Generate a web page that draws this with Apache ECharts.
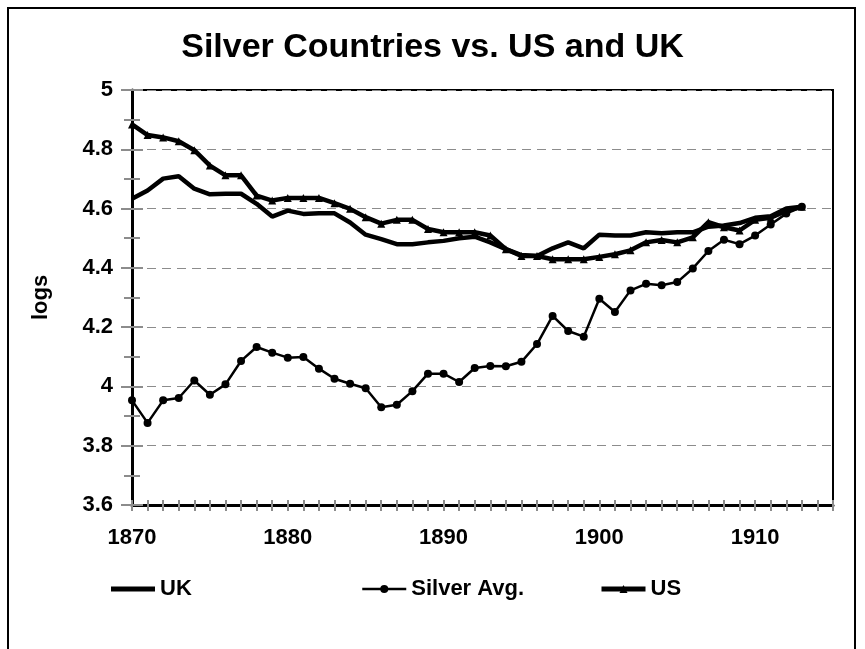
<!DOCTYPE html>
<html>
<head>
<meta charset="utf-8">
<script src="https://cdn.jsdelivr.net/npm/echarts@6/dist/echarts.min.js"></script>
<style>
html,body{margin:0;padding:0;background:#fff;}
#chart{width:865px;height:649px;}
</style>
</head>
<body>
<div id="chart"></div>
<script>
const years = ['1870','1871','1872','1873','1874','1875','1876','1877','1878','1879',
  '1880','1881','1882','1883','1884','1885','1886','1887','1888','1889',
  '1890','1891','1892','1893','1894','1895','1896','1897','1898','1899',
  '1900','1901','1902','1903','1904','1905','1906','1907','1908','1909',
  '1910','1911','1912','1913','1914','1915'];
const ukValues = [4.633,4.661,4.701,4.709,4.667,4.648,4.650,4.650,4.616,4.573,4.593,4.582,4.584,4.584,4.553,
  4.512,4.497,4.480,4.480,4.486,4.491,4.500,4.505,4.486,4.463,4.443,4.440,4.466,4.486,4.466,
  4.512,4.509,4.509,4.520,4.517,4.520,4.520,4.539,4.543,4.551,4.569,4.574,4.600,4.606];
const silverValues = [3.953,3.877,3.953,3.961,4.020,3.972,4.007,4.086,4.133,4.114,4.097,4.099,4.060,4.026,4.009,
  3.994,3.930,3.938,3.984,4.043,4.043,4.015,4.062,4.069,4.068,4.083,4.143,4.238,4.187,4.168,
  4.296,4.251,4.324,4.346,4.341,4.352,4.398,4.457,4.495,4.480,4.509,4.546,4.583,4.606];
const usValues = [4.884,4.848,4.840,4.827,4.797,4.745,4.712,4.712,4.644,4.627,4.636,4.636,4.636,4.618,4.599,
  4.571,4.549,4.562,4.562,4.531,4.520,4.520,4.520,4.509,4.463,4.440,4.440,4.429,4.429,4.429,
  4.437,4.446,4.459,4.486,4.494,4.486,4.503,4.554,4.537,4.526,4.562,4.569,4.592,4.606];
const titleText = 'Silver Countries vs. US and UK';
const yName = 'logs';

const FONT = 'Liberation Sans, Arial, sans-serif';
const chart = echarts.init(document.getElementById('chart'));
const gray = '#8c8c8c';
const yBase = {type: 'value', min: 3.6, max: 5, interval: 0.2, position: 'left'};
const xBase = {type: 'category', data: years, boundaryGap: false, position: 'bottom'};
const legendText = {fontFamily: FONT, fontWeight: 'bold', fontSize: 22, color: '#000'};
chart.setOption({
  backgroundColor: '#fff',
  animation: false,
  title: {
    text: titleText, left: 'center', top: 26,
    textStyle: {fontFamily: FONT, fontWeight: 'bold', fontSize: 34, color: '#000'}
  },
  grid: {left: 132, right: 32, top: 90, bottom: 144, show: true, borderColor: '#000', borderWidth: 2, backgroundColor: 'transparent'},
  legend: [
    {data: [{name: 'UK', icon: 'rect'}], left: 111, top: 578, itemWidth: 44, itemHeight: 5, padding: 0, textStyle: legendText},
    {data: ['Silver Avg.'], left: 361, top: 578, itemWidth: 44, itemHeight: 10, padding: 0, textStyle: legendText,
      lineStyle: {width: 2.5, color: '#000'}},
    {data: ['US'], left: 599, top: 578, itemWidth: 44, itemHeight: 10, padding: 0, textStyle: legendText,
      lineStyle: {width: 5, color: '#000'}}
  ],
  xAxis: [
    Object.assign({}, xBase, {
      axisLine: {show: true, lineStyle: {color: '#000', width: 3}},
      axisTick: {show: true, interval: 0, length: 6, lineStyle: {color: gray, width: 2}},
      axisLabel: {interval: 9, margin: 22, fontFamily: FONT, fontWeight: 'bold', fontSize: 22, color: '#000'},
      splitLine: {show: false}
    }),
    Object.assign({}, xBase, {
      axisLine: {show: false},
      axisTick: {show: true, inside: true, interval: 0, length: 5, lineStyle: {color: gray, width: 2}},
      axisLabel: {show: false},
      splitLine: {show: false}
    })
  ],
  yAxis: [
    Object.assign({}, yBase, {
      name: yName, nameLocation: 'middle', nameGap: 80, nameRotate: 90,
      nameTextStyle: {fontFamily: FONT, fontWeight: 'bold', fontSize: 22, color: '#000'},
      axisLine: {show: true, lineStyle: {color: '#000', width: 3}},
      axisTick: {show: true, length: 11, lineStyle: {color: gray, width: 2}},
      minorTick: {show: true, splitNumber: 2, length: 8, lineStyle: {color: gray, width: 2}},
      axisLabel: {margin: 19, fontFamily: FONT, fontWeight: 'bold', fontSize: 22, color: '#000',
        formatter: v => String(Math.round(v * 10) / 10)},
      splitLine: {show: true, lineStyle: {color: gray, width: 1.2, type: [9, 6]}}
    }),
    Object.assign({}, yBase, {
      axisLine: {show: false},
      axisTick: {show: true, inside: true, length: 11, lineStyle: {color: gray, width: 2}},
      minorTick: {show: true, splitNumber: 2, length: 8, lineStyle: {color: gray, width: 2}},
      axisLabel: {show: false},
      splitLine: {show: false}
    })
  ],
  graphic: [{
    type: 'rect', shape: {x: 8, y: 8, width: 847, height: 700},
    style: {fill: 'none', stroke: '#000', lineWidth: 2}, silent: true, z: 100
  }],
  series: [
    {name: 'UK', type: 'line', data: ukValues, showSymbol: false, symbol: 'none',
      lineStyle: {color: '#000', width: 4.5}, itemStyle: {color: '#000'}},
    {name: 'Silver Avg.', type: 'line', data: silverValues, symbol: 'circle', symbolSize: 8,
      lineStyle: {color: '#000', width: 2.5}, itemStyle: {color: '#000'}},
    {name: 'US', type: 'line', data: usValues, symbol: 'triangle', symbolSize: 8,
      lineStyle: {color: '#000', width: 4.5}, itemStyle: {color: '#000'}}
  ]
});
</script>
</body>
</html>
